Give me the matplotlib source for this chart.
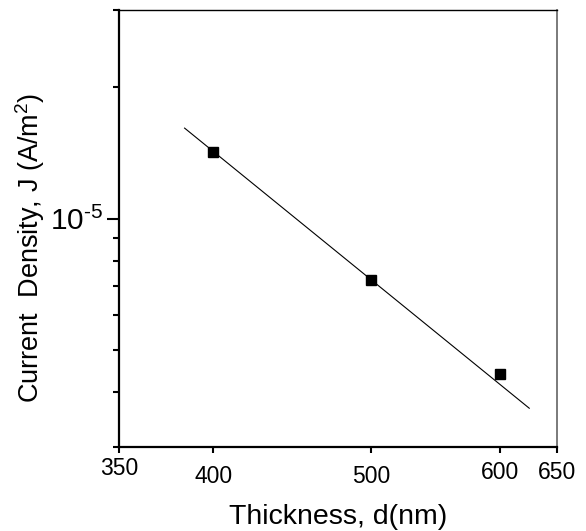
import matplotlib
matplotlib.use("Agg")
import matplotlib.pyplot as plt
from matplotlib.ticker import FixedLocator, NullFormatter, LogLocator
import numpy as np

plt.rcParams['font.family'] = ['Liberation Sans', 'DejaVu Sans']
plt.rcParams['mathtext.fontset'] = 'custom'
plt.rcParams['mathtext.rm'] = 'Liberation Sans'
plt.rcParams['mathtext.it'] = 'Liberation Sans:italic'
plt.rcParams['mathtext.bf'] = 'Liberation Sans:bold'

# Data
thickness = [400, 500, 600]                 # nm
current_density = [1.42e-5, 7.22e-6, 4.40e-6]  # A/m^2
fit_thickness = [384, 625]
fit_density = [1.61e-5, 3.68e-6]

x_ticks = [350, 400, 500, 600, 650]
x_ticklabels = ['350', '400', '500', '600', '650']
y_major = [1e-5]
y_major_labels = [r'$10^{\text{-}5}$']
x_range = (350, 650)
y_range = (3e-6, 3e-5)

fig = plt.figure(figsize=(5.86, 5.31), dpi=100)
ax = fig.add_axes([119/586, 1-447/531, (557-119)/586, (447-10)/531])

ax.plot(fit_thickness, fit_density, color='black', lw=0.8)
ax.plot(thickness, current_density, 's', color='black', ms=6.5, mec='black')

ax.set_xscale('log')
ax.set_yscale('log')
ax.set_xlim(*x_range)
ax.set_ylim(*y_range)

ax.xaxis.set_major_locator(FixedLocator(x_ticks))
ax.set_xticklabels(x_ticklabels)
ax.xaxis.set_minor_locator(FixedLocator([]))
ax.xaxis.set_minor_formatter(NullFormatter())

ax.yaxis.set_major_locator(FixedLocator(y_major))
ax.set_yticklabels(y_major_labels)
ax.yaxis.set_minor_locator(LogLocator(base=10, subs=np.arange(2, 10)))
ax.yaxis.set_minor_formatter(NullFormatter())

ax.tick_params(axis='x', which='major', direction='out', length=4, width=1.5,
               labelsize=16.5, top=False, pad=6)
ax.tick_params(axis='y', which='major', direction='out', length=9, width=1.5,
               labelsize=21.5, right=False, pad=2)
ax.tick_params(axis='y', which='minor', direction='out', length=4, width=1.5,
               right=False)

# individual label offsets as in the reference
pads = [3, 9, 9, 6, 6]
for t, p in zip(ax.xaxis.get_major_ticks(), pads):
    t.set_pad(p)

for s in ['left', 'bottom']:
    ax.spines[s].set_linewidth(1.6)
    ax.spines[s].set_color('black')
ax.spines['top'].set_linewidth(1.0)
ax.spines['top'].set_color('black')
ax.spines['right'].set_linewidth(1.3)
ax.spines['right'].set_color('#707070')

ax.set_xlabel('Thickness, d(nm)', fontsize=20.5)
ax.xaxis.set_label_coords(0.5, -0.13)
ax.set_ylabel('Current  Density, J (A/m$^2$)', fontsize=19.5)
ax.yaxis.set_label_coords(-0.165, 0.455)

fig.savefig('out.png', dpi=100, facecolor='white')
